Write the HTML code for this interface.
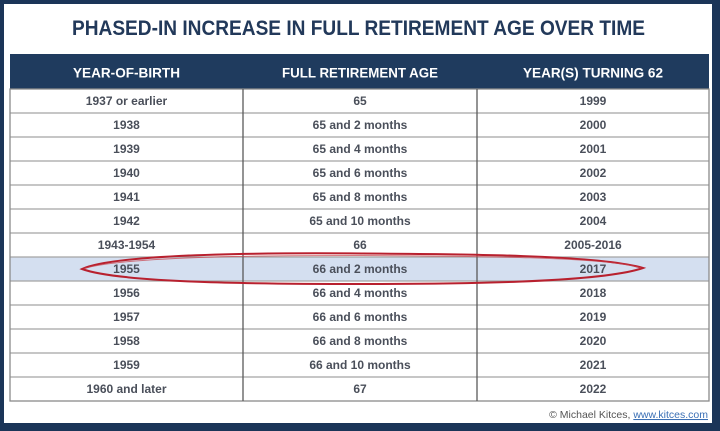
<!DOCTYPE html>
<html><head><meta charset="utf-8"><style>
html,body{margin:0;padding:0;background:#1b3558;}
svg{display:block;}
</style></head><body>
<svg width="720" height="431" viewBox="0 0 720 431" xmlns="http://www.w3.org/2000/svg" font-family="'Liberation Sans', sans-serif">
<rect x="0" y="0" width="720" height="431" fill="#1b3558"/>
<rect x="4" y="4" width="708" height="419" fill="#ffffff"/>
<text x="358.5" y="35" font-size="21" font-weight="bold" fill="#22395a" text-anchor="middle" textLength="573" lengthAdjust="spacingAndGlyphs">PHASED-IN INCREASE IN FULL RETIREMENT AGE OVER TIME</text>
<rect x="10" y="54" width="699" height="35" fill="#1f3b5e"/>
<g font-size="14" font-weight="bold" fill="#ffffff" text-anchor="middle">
<text x="126.5" y="77.5" textLength="107" lengthAdjust="spacingAndGlyphs">YEAR-OF-BIRTH</text>
<text x="360" y="77.5" textLength="156" lengthAdjust="spacingAndGlyphs">FULL RETIREMENT AGE</text>
<text x="593" y="77.5" textLength="140" lengthAdjust="spacingAndGlyphs">YEAR(S) TURNING 62</text>
</g>
<rect x="10" y="257" width="699" height="24" fill="#d4dff0"/>
<g stroke="#a3a3a3" stroke-width="1.3">
<line x1="10" y1="113" x2="709" y2="113"/>
<line x1="10" y1="137" x2="709" y2="137"/>
<line x1="10" y1="161" x2="709" y2="161"/>
<line x1="10" y1="185" x2="709" y2="185"/>
<line x1="10" y1="209" x2="709" y2="209"/>
<line x1="10" y1="233" x2="709" y2="233"/>
<line x1="10" y1="257" x2="709" y2="257"/>
<line x1="10" y1="281" x2="709" y2="281"/>
<line x1="10" y1="305" x2="709" y2="305"/>
<line x1="10" y1="329" x2="709" y2="329"/>
<line x1="10" y1="353" x2="709" y2="353"/>
<line x1="10" y1="377" x2="709" y2="377"/>
</g>
<rect x="10" y="89" width="699" height="312" fill="none" stroke="#8a8a8a" stroke-width="1.3"/>
<line x1="243" y1="89" x2="243" y2="401" stroke="#5a5a5a" stroke-width="1.3"/>
<line x1="477" y1="89" x2="477" y2="401" stroke="#5a5a5a" stroke-width="1.3"/>
<g font-size="12" font-weight="bold" fill="#4a4f5a" text-anchor="middle">
<text x="126.5" y="105">1937 or earlier</text><text x="360" y="105">65</text><text x="593" y="105">1999</text>
<text x="126.5" y="129">1938</text><text x="360" y="129">65 and 2 months</text><text x="593" y="129">2000</text>
<text x="126.5" y="153">1939</text><text x="360" y="153">65 and 4 months</text><text x="593" y="153">2001</text>
<text x="126.5" y="177">1940</text><text x="360" y="177">65 and 6 months</text><text x="593" y="177">2002</text>
<text x="126.5" y="201">1941</text><text x="360" y="201">65 and 8 months</text><text x="593" y="201">2003</text>
<text x="126.5" y="225">1942</text><text x="360" y="225">65 and 10 months</text><text x="593" y="225">2004</text>
<text x="126.5" y="249">1943-1954</text><text x="360" y="249">66</text><text x="593" y="249">2005-2016</text>
<text x="126.5" y="273">1955</text><text x="360" y="273">66 and 2 months</text><text x="593" y="273">2017</text>
<text x="126.5" y="297">1956</text><text x="360" y="297">66 and 4 months</text><text x="593" y="297">2018</text>
<text x="126.5" y="321">1957</text><text x="360" y="321">66 and 6 months</text><text x="593" y="321">2019</text>
<text x="126.5" y="345">1958</text><text x="360" y="345">66 and 8 months</text><text x="593" y="345">2020</text>
<text x="126.5" y="369">1959</text><text x="360" y="369">66 and 10 months</text><text x="593" y="369">2021</text>
<text x="126.5" y="393">1960 and later</text><text x="360" y="393">67</text><text x="593" y="393">2022</text>
</g>
<path d="M 82 269 C 120 252, 300 253, 362 253.5 C 460 254, 600 255, 643 268 C 600 283, 450 284, 362 284 C 260 284, 120 283, 82 269 Z" fill="none" stroke="#b8202e" stroke-width="2"/>
<path d="M 84 268.5 C 130 255, 300 255.5, 362 255.5 C 470 256, 610 257, 641 268" fill="none" stroke="#c9424c" stroke-width="1" opacity="0.7"/>
<text x="708" y="418" font-size="10.5" text-anchor="end" fill="#555"><tspan>© Michael Kitces, </tspan><tspan fill="#3a6fb5" text-decoration="underline">www.kitces.com</tspan></text>
</svg>
</body></html>
